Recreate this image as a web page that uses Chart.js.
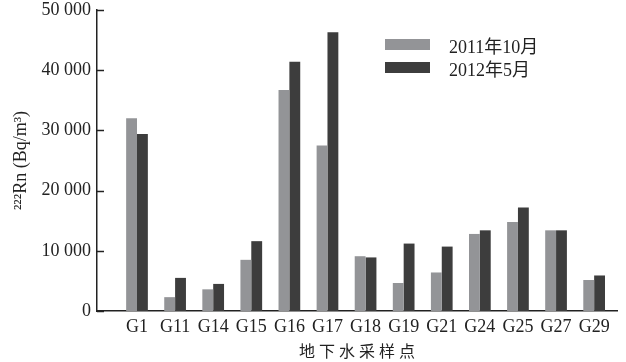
<!DOCTYPE html>
<html>
<head>
<meta charset="utf-8">
<script src="https://cdn.jsdelivr.net/npm/chart.js@4"></script>
<style>
    html, body { margin: 0; padding: 0; background: #fff; }
    #wrap { position: relative; width: 626px; height: 362px; }
    .legend { position: absolute; left: 385px; font: 18px 'Liberation Serif', 'Noto Sans CJK SC', serif; color: #222; }
    .legend div { height: 23px; display: flex; align-items: center; }
    .legend span.box { display: inline-block; width: 45px; height: 11px; margin-right: 19px; }
</style>
</head>
<body>
<div id="wrap">
    <canvas id="rnChart" width="626" height="362"></canvas>
    <div class="legend" id="legend" style="top: 33px;"></div>
</div>
<script>
// sampling points and radon concentrations (Bq/m3)
const sites = ['G1', 'G11', 'G14', 'G15', 'G16', 'G17', 'G18', 'G19', 'G21', 'G24', 'G25', 'G27', 'G29'];
const oct2011 = [32000, 2300, 3600, 8500, 36700, 27500, 9100, 4650, 6400, 12800, 14800, 13400, 5150];
const may2012 = [29400, 5500, 4500, 11600, 41400, 46300, 8900, 11200, 10700, 13400, 17200, 13400, 5900];
const seriesNames = ['2011年10月', '2012年5月'];
const seriesColors = ['#939497', '#3d3d3d'];
const yTicks = [0, 10000, 20000, 30000, 40000, 50000];

const serif = "'Liberation Serif', 'Noto Sans CJK SC', serif";

function toPoints(values) {
    return values.map((v, i) => ({ x: i, y: v }));
}

function fmt(v) {
    return String(v).replace(/\B(?=(\d{3})+(?!\d))/g, ' ');
}

// short tick marks drawn on the inside of the y axis
const innerTicks = {
    id: 'innerTicks',
    afterDraw(chart) {
        const y = chart.scales.y;
        const ctx = chart.ctx;
        ctx.save();
        ctx.strokeStyle = '#222';
        ctx.lineWidth = 1.5;
        yTicks.forEach(t => {
            const py = Math.round(y.getPixelForValue(t)) + 0.5;
            ctx.beginPath();
            ctx.moveTo(y.right, py);
            ctx.lineTo(y.right + 7, py);
            ctx.stroke();
        });
        ctx.restore();
    }
};

const rnChart = new Chart(document.getElementById('rnChart'), {
    type: 'bar',
    data: {
        datasets: [
            { label: seriesNames[0], data: toPoints(oct2011), backgroundColor: seriesColors[0], borderWidth: 0 },
            { label: seriesNames[1], data: toPoints(may2012), backgroundColor: seriesColors[1], borderWidth: 0 }
        ]
    },
    options: {
        responsive: false,
        animation: false,
        devicePixelRatio: 1,
        categoryPercentage: 0.57,
        barPercentage: 1,
        layout: { padding: { top: 10, right: 9, left: 0, bottom: 0 } },
        plugins: {
            legend: { display: false },
            tooltip: { enabled: false }
        },
        scales: {
            x: {
                type: 'linear',
                offset: false,
                min: -1.05,
                max: 12.6,
                grid: { display: false, drawTicks: false },
                border: { color: '#222', width: 1.5 },
                afterBuildTicks: s => { s.ticks = sites.map((_, i) => ({ value: i })); },
                ticks: {
                    autoSkip: false,
                    maxRotation: 0,
                    padding: 5,
                    color: '#222',
                    font: { family: serif, size: 18 },
                    callback: v => sites[v] || ''
                },
                title: {
                    display: true,
                    text: '地 下 水 采 样 点',
                    color: '#222',
                    font: { family: serif, size: 16 },
                    padding: { top: 2, bottom: 0 }
                },
                afterFit: s => { s.height = 51; s.paddingLeft = 0; s.paddingRight = 0; }
            },
            y: {
                min: 0,
                max: 50000,
                grid: { display: false, drawTicks: false },
                border: { color: '#222', width: 1.5 },
                afterBuildTicks: s => { s.ticks = yTicks.map(v => ({ value: v })); },
                ticks: {
                    padding: 6,
                    color: '#222',
                    font: { family: serif, size: 18 },
                    callback: v => fmt(v)
                },
                title: {
                    display: true,
                    text: '²²²Rn (Bq/m³)',
                    color: '#222',
                    font: { family: serif, size: 18 },
                    padding: { top: 10, bottom: 0 }
                },
                afterFit: s => { s.width = 97; s.paddingTop = 0; s.paddingBottom = 0; }
            }
        }
    },
    plugins: [innerTicks]
});

// legend
const legend = document.getElementById('legend');
seriesNames.forEach((name, i) => {
    const row = document.createElement('div');
    row.innerHTML = '<span class="box" style="background:' + seriesColors[i] + '"></span>' + name;
    legend.appendChild(row);
});
</script>
</body>
</html>
